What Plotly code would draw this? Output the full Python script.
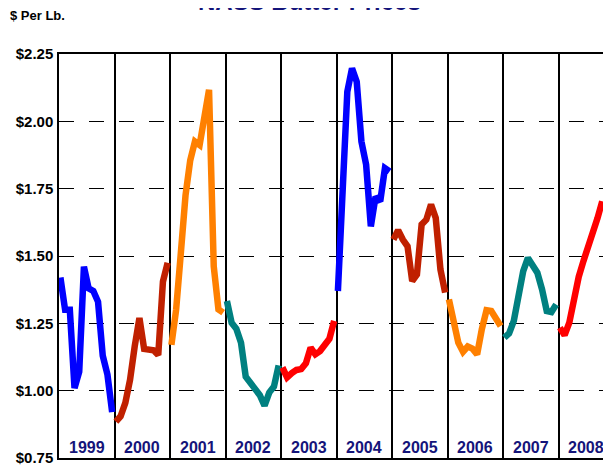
import plotly.graph_objects as go

years = [1999, 2000, 2001, 2002, 2003, 2004, 2005, 2006, 2007, 2008]
colors = ["#0000FF", "#C02000", "#FF8000", "#008080", "#FF0000",
          "#0000FF", "#C02000", "#FF8000", "#008080", "#FF0000"]

p1999 = [1.42, 1.30, 1.30, 1.01, 1.07, 1.46, 1.38, 1.37, 1.33, 1.13, 1.06, 0.92]
p2000 = [0.885, 0.905, 0.955, 1.04, 1.165, 1.27, 1.155, 1.155, 1.15, 1.132, 1.405, 1.475]
p2001 = [1.17, 1.30, 1.51, 1.725, 1.855, 1.925, 1.912, 2.005, 2.117, 1.462, 1.302, 1.29]
p2002 = [1.333, 1.252, 1.23, 1.178, 1.052, 1.028, 1.008, 0.983, 0.944, 0.993, 1.015, 1.094]
p2003 = [1.086, 1.049, 1.065, 1.077, 1.080, 1.102, 1.160, 1.135, 1.147, 1.169, 1.193, 1.259]
p2004 = [1.37, 1.752, 2.11, 2.197, 2.147, 1.925, 1.839, 1.61, 1.72, 1.703, 1.826, 1.814]
p2005 = [1.561, 1.596, 1.561, 1.536, 1.407, 1.431, 1.617, 1.635, 1.691, 1.641, 1.45, 1.364]
p2006 = [1.339, 1.259, 1.178, 1.144, 1.164, 1.156, 1.135, 1.228, 1.299, 1.296, 1.267, 1.24]
p2007 = [1.197, 1.213, 1.259, 1.364, 1.444, 1.493, 1.46, 1.438, 1.376, 1.296, 1.292, 1.320]
p2008 = [1.234, 1.206, 1.253, 1.351, 1.423, 1.481, 1.53, 1.58, 1.641, 1.703]

prices = [p1999, p2000, p2001, p2002, p2003, p2004, p2005, p2006, p2007, p2008]
y_ticks = [0.75, 1.00, 1.25, 1.50, 1.75, 2.00, 2.25]
y_labels = ["$%.2f" % v for v in y_ticks]

fig = go.Figure()
for yr, vals, col in zip(years, prices, colors):
    xs = [yr + (m + 0.3) / 11.8 for m in range(len(vals))]
    fig.add_trace(go.Scatter(x=xs, y=vals, mode="lines",
                             line=dict(color=col, width=6.5),
                             showlegend=False, hoverinfo="skip"))

for yr in years:
    fig.add_annotation(x=yr + 0.5, y=0.79, xref="x", yref="y",
                       text="<b>%d</b>" % yr, showarrow=False,
                       font=dict(family="Liberation Sans, Arial", size=16, color="#14147A"))

fig.add_annotation(x=0.4547, y=1.131, xref="paper", yref="paper",
                   xanchor="center", yanchor="middle",
                   text="<b>NASS Butter Prices</b>", showarrow=False,
                   font=dict(family="Liberation Sans, Arial", size=24, color="#14147A"))
fig.add_annotation(x=-0.0924, y=1.0963, xref="paper", yref="paper",
                   xanchor="left", yanchor="middle",
                   text="<b>$ Per Lb.</b>", showarrow=False,
                   font=dict(family="Liberation Sans, Arial", size=13, color="black"))

fig.update_layout(
    width=611, height=466,
    margin=dict(l=51, r=8, t=46, b=15),
    paper_bgcolor="white", plot_bgcolor="white",
    xaxis=dict(range=[1999, 2008.91], showticklabels=False, tickvals=years,
               showgrid=True, gridcolor="black", gridwidth=1.5,
               showline=True, linecolor="black", linewidth=1.5, mirror=True,
               zeroline=False, ticks=""),
    yaxis=dict(range=[0.75, 2.25], tickmode="array", tickvals=y_ticks, ticktext=y_labels,
               showgrid=True, gridcolor="black", gridwidth=1.2, griddash="15px,15px",
               showline=True, linecolor="black", linewidth=1.5, mirror=True,
               zeroline=False, ticks="", ticklabelstandoff=1,
               tickfont=dict(family="Liberation Sans, Arial", size=15, color="black", weight="bold")),
)

fig.write_html("out.html", config={"displayModeBar": False})
